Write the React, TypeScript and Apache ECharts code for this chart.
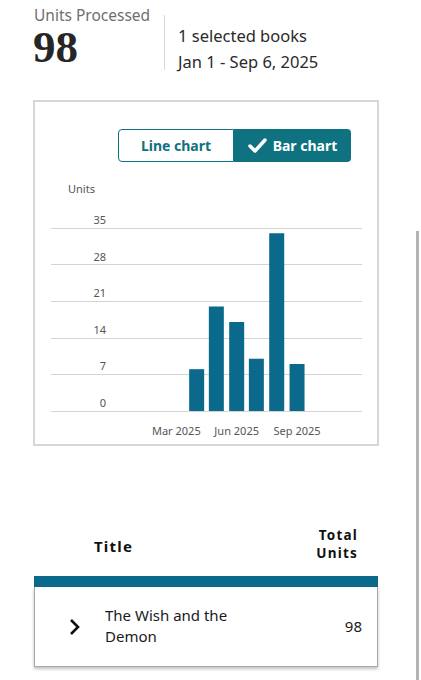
import React, { useEffect, useRef } from 'react';
import * as echarts from 'echarts';

// monthly units (bar dates are the first of each month)
const barDates = ['2025-04-01', '2025-05-01', '2025-06-01', '2025-07-01', '2025-08-01', '2025-09-01'];
const barValues = [8, 20, 17, 10, 34, 9];
const xLabelDates = ['2025-03-01', '2025-06-01', '2025-09-01'];
const monthNames = ['Jan', 'Feb', 'Mar', 'Apr', 'May', 'Jun', 'Jul', 'Aug', 'Sep', 'Oct', 'Nov', 'Dec'];
const axisStart = '2024-08-22';
const axisEnd = '2025-12-09';
const yMax = 35;
const yStep = 7;

const BAR = '#0b6a8b';
const TOGGLE = '#0e7281';
const FONT = '"Noto Sans", "Open Sans", sans-serif';

// dates as day numbers, so the x axis can be a plain value axis
const toDay = (s: string) => {
  const [y, m, d] = s.split('-').map(Number);
  return Math.round(Date.UTC(y, m - 1, d) / 86400000);
};

const UnitsChart: React.FC = () => {
  const chartRef = useRef<HTMLDivElement>(null);

  useEffect(() => {
    if (!chartRef.current) return;
    const chart = echarts.init(chartRef.current, undefined, { renderer: 'svg' });

    const option: echarts.EChartsOption = {
      animation: false,
      title: {
        text: 'Units',
        left: 28,
        top: 76,
        textStyle: { fontSize: 11, fontWeight: 'normal', color: '#555', fontFamily: FONT }
      },
      grid: { left: 16, right: 15, top: 126, bottom: 33, containLabel: false },
      xAxis: {
        type: 'value',
        min: toDay(axisStart),
        max: toDay(axisEnd),
        axisLine: { show: false },
        axisTick: { show: false },
        splitLine: { show: false },
        axisLabel: {
          customValues: xLabelDates.map(toDay),
          margin: 14,
          fontSize: 11,
          color: '#555',
          fontFamily: FONT,
          formatter: (value: number) => {
            const d = new Date(value * 86400000);
            return `${monthNames[d.getUTCMonth()]} ${d.getUTCFullYear()}`;
          }
        }
      },
      yAxis: {
        type: 'value',
        min: 0,
        max: yMax,
        interval: yStep,
        axisLine: { show: false },
        axisTick: { show: false },
        axisLabel: {
          margin: -55,
          fontSize: 11,
          color: '#555',
          fontFamily: FONT,
          verticalAlign: 'bottom',
          padding: [0, 0, 3, 0]
        },
        splitLine: { lineStyle: { color: '#d4d4d4', width: 1 } }
      },
      series: [
        {
          type: 'bar',
          barWidth: 15,
          data: barDates.map((d, i) => [toDay(d), barValues[i]]),
          itemStyle: { color: BAR }
        }
      ]
    };

    chart.setOption(option);
    return () => chart.dispose();
  }, []);

  return (
    <div
      ref={chartRef}
      style={{ position: 'absolute', left: 35, top: 102, width: 342, height: 342 }}
    />
  );
};

const headStyle: React.CSSProperties = {
  position: 'absolute',
  right: 421 - 358,
  fontSize: 13.5,
  fontWeight: 'bold',
  letterSpacing: 1.2,
  color: '#111',
  lineHeight: '16px',
  textAlign: 'right'
};

const App: React.FC = () => {
  return (
    <div
      style={{
        position: 'absolute',
        left: 0,
        top: 0,
        width: 421,
        height: 680,
        overflow: 'hidden',
        background: '#fff',
        fontFamily: FONT
      }}
    >
      {/* header */}
      <div style={{ position: 'absolute', left: 34, top: 5, fontSize: 15.5, color: '#6f6f6f', lineHeight: '20px' }}>
        Units Processed
      </div>
      <div
        style={{
          position: 'absolute',
          left: 33,
          top: 29,
          fontSize: 45,
          lineHeight: '36px',
          fontFamily: '"Liberation Serif", "Times New Roman", serif',
          fontWeight: 'bold',
          color: '#262626'
        }}
      >
        98
      </div>
      <div style={{ position: 'absolute', left: 164, top: 15, width: 1, height: 55, background: '#d8d8d8' }} />
      <div style={{ position: 'absolute', left: 178, top: 24, fontSize: 16.5, lineHeight: '24px', color: '#2a2a2a' }}>
        1 selected books
      </div>
      <div style={{ position: 'absolute', left: 178, top: 50, fontSize: 16.5, lineHeight: '24px', color: '#2a2a2a' }}>
        Jan 1 - Sep 6, 2025
      </div>

      {/* chart card */}
      <div
        style={{
          position: 'absolute',
          left: 33,
          top: 100,
          width: 346,
          height: 346,
          boxSizing: 'border-box',
          border: '2px solid #d6d6d6'
        }}
      />
      <UnitsChart />

      {/* toggle */}
      <div
        style={{
          position: 'absolute',
          left: 118,
          top: 129,
          width: 116,
          height: 33,
          boxSizing: 'border-box',
          border: `1.5px solid ${TOGGLE}`,
          borderRadius: '4px 0 0 4px',
          color: TOGGLE,
          fontWeight: 'bold',
          fontSize: 14,
          display: 'flex',
          alignItems: 'center',
          justifyContent: 'center'
        }}
      >
        Line chart
      </div>
      <div
        style={{
          position: 'absolute',
          left: 234,
          top: 129,
          width: 117,
          height: 33,
          background: TOGGLE,
          borderRadius: '0 4px 4px 0',
          color: '#fff',
          fontWeight: 'bold',
          fontSize: 14,
          display: 'flex',
          alignItems: 'center',
          justifyContent: 'center',
          gap: 6
        }}
      >
        <svg width="19" height="15" viewBox="0 0 19 15">
          <polyline points="2,8 7,13 17,2" fill="none" stroke="#fff" strokeWidth="3.5" strokeLinecap="round" strokeLinejoin="round" />
        </svg>
        Bar chart
      </div>

      {/* table */}
      <div style={{ position: 'absolute', left: 94, top: 535, fontSize: 15, fontWeight: 'bold', letterSpacing: 1.2, color: '#111', lineHeight: '22px' }}>
        Title
      </div>
      <div style={{ ...headStyle, top: 527 }}>Total</div>
      <div style={{ ...headStyle, top: 545 }}>Units</div>
      <div style={{ position: 'absolute', left: 34, top: 576, width: 344, height: 11, background: BAR }} />
      <div
        style={{
          position: 'absolute',
          left: 34,
          top: 587,
          width: 344,
          height: 80,
          boxSizing: 'border-box',
          border: '1px solid #a8a8a8',
          borderTop: 'none',
          boxShadow: '0 2px 3px rgba(0,0,0,0.25)'
        }}
      />
      <svg style={{ position: 'absolute', left: 68, top: 618 }} width="14" height="18" viewBox="0 0 14 18">
        <polyline points="3,2 10,9 3,16" fill="none" stroke="#111" strokeWidth="2.6" />
      </svg>
      <div style={{ position: 'absolute', left: 105, top: 605, fontSize: 15, lineHeight: '21px', color: '#1a1a1a' }}>
        The Wish and the
        <br />
        Demon
      </div>
      <div style={{ position: 'absolute', right: 421 - 362, top: 616, fontSize: 15, lineHeight: '21px', color: '#1a1a1a' }}>
        98
      </div>

      {/* scrollbar */}
      <div style={{ position: 'absolute', left: 416, top: 231, width: 3, height: 449, background: '#b3b3b3' }} />
    </div>
  );
};

export default App;
